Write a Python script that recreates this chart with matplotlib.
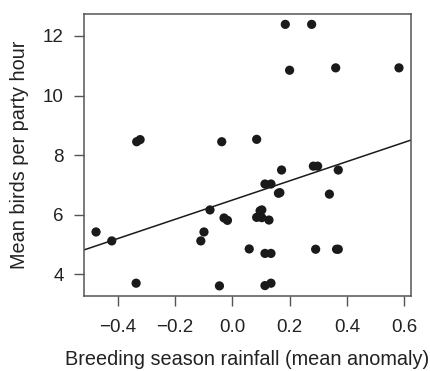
import numpy as np
import matplotlib.pyplot as plt

plt.rcParams['font.family'] = ['Liberation Sans', 'DejaVu Sans']

# rainfall anomaly vs birds per party hour
rain = [-0.476, -0.421, -0.336, -0.334, -0.322, -0.110, -0.099, -0.078, -0.045,
        -0.037, -0.029, -0.017, 0.059, 0.085, 0.085, 0.097, 0.103, 0.103, 0.114,
        0.114, 0.114, 0.128, 0.135, 0.135, 0.135, 0.161, 0.166, 0.172, 0.185,
        0.200, 0.277, 0.283, 0.291, 0.298, 0.339, 0.361, 0.364, 0.370, 0.370,
        0.582]
birds = [5.42, 5.12, 3.70, 8.45, 8.52, 5.12, 5.42, 6.16, 3.61,
         8.45, 5.89, 5.81, 4.85, 5.91, 8.53, 6.13, 6.16, 5.90, 7.03,
         4.70, 3.62, 5.82, 7.03, 4.70, 3.70, 6.72, 6.74, 7.50, 12.39,
         10.85, 12.39, 7.63, 4.84, 7.63, 6.69, 10.93, 4.84, 7.50, 4.84,
         10.93]

# fitted line
intercept = 6.49
slope = 3.23

xticks = [-0.4, -0.2, 0.0, 0.2, 0.4, 0.6]
yticks = [4, 6, 8, 10, 12]

fig = plt.figure(figsize=(4.3, 3.71), dpi=100)
ax = fig.add_axes([84/430, 1-296/371, 327/430, 282.5/371])

ax.scatter(rain, birds, s=44, color='#1a1a1a', edgecolors='none', zorder=3)

xmin, xmax = -0.518, 0.624
xs = np.array([xmin, xmax])
ax.plot(xs, intercept + slope*xs, color='#1a1a1a', lw=1.1, zorder=2)

ax.set_xlim(xmin, xmax)
ax.set_ylim(3.27, 12.755)
ax.set_xticks(xticks)
ax.set_xticklabels(['\u22120.4', '\u22120.2', '0.0', '0.2', '0.4', '0.6'])
ax.set_yticks(yticks)

for s in ax.spines.values():
    s.set_color('#555555')
    s.set_linewidth(1.1)
ax.tick_params(direction='out', length=7.5, width=1.0, color='#555555',
               labelsize=13.5, labelcolor='#222222', pad=7)
ax.tick_params(axis='x', pad=9)

ax.set_xlabel('Breeding season rainfall (mean anomaly)', fontsize=14.3,
              color='#222222', labelpad=10)
ax.set_ylabel('Mean birds per party hour', fontsize=14.3, color='#222222',
              labelpad=10)

plt.savefig('out.png', dpi=100)
